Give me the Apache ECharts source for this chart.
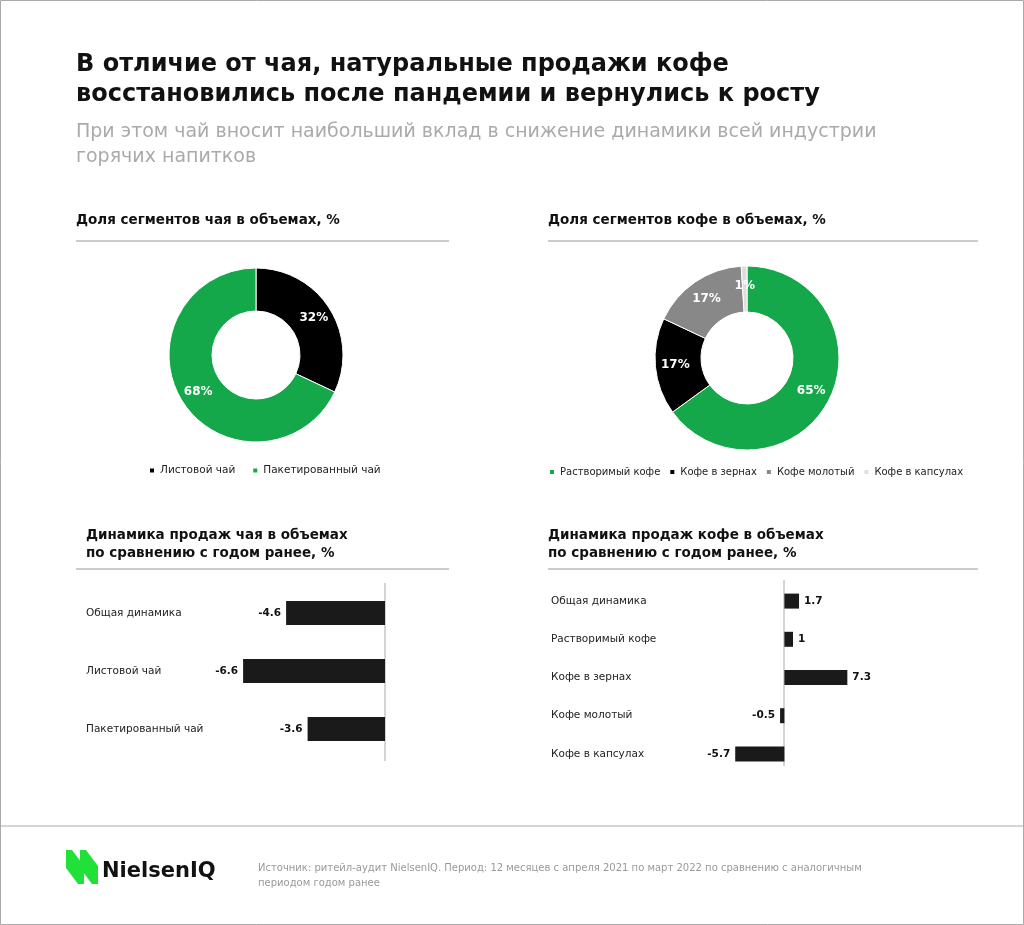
<!DOCTYPE html>
<html><head><meta charset="utf-8">
<script src="https://cdn.jsdelivr.net/npm/echarts@6/dist/echarts.min.js"></script>
<style>html,body{margin:0;background:#fff}#c{width:1024px;height:925px}</style>
</head><body><div id="c"></div>
<script>
const teaSegments=['Листовой чай','Пакетированный чай'];
const teaShares=[32,68];
const coffeeSegments=['Растворимый кофе','Кофе в зернах','Кофе молотый','Кофе в капсулах'];
const coffeeShares=[65,17,17,1];
const teaDynCats=['Общая динамика','Листовой чай','Пакетированный чай'];
const teaDynVals=[-4.6,-6.6,-3.6];
const coffeeDynCats=['Общая динамика','Растворимый кофе','Кофе в зернах','Кофе молотый','Кофе в капсулах'];
const coffeeDynVals=[1.7,1,7.3,-0.5,-5.7];

const F='"DejaVu Sans", sans-serif';
const G='#14a84a';
const chart=echarts.init(document.getElementById('c'));
const txt=(x,y,t,o)=>({type:'text',left:x,top:y,style:Object.assign({text:t,font:'13px '+F,fill:'#111'},o||{})});
const line=(x1,y1,x2,y2,c)=>({type:'line',shape:{x1,y1,x2,y2},style:{stroke:c||'#999',lineWidth:1}});
function barSeries(){return {type:'bar',itemStyle:{color:'#1a1a1a'},
  label:{show:true,formatter:p=>String(p.value),position:'right',fontFamily:F,fontWeight:'bold',fontSize:10.5,color:'#111'}};}
function mk(vals){return vals.map(v=>({value:v,label:{position:v<0?'left':'right'}}));}
chart.setOption({
  animation:false,
  graphic:[
    {type:'rect',shape:{x:0.5,y:0.5,width:1023,height:924},style:{fill:'none',stroke:'#aaa'}},
    txt(76,50,'В отличие от чая, натуральные продажи кофе\nвосстановились после пандемии и вернулись к росту',{font:'bold 24px '+F,lineHeight:30}),
    txt(76,120,'При этом чай вносит наибольший вклад в снижение динамики всей индустрии\nгорячих напитков',{font:'19px '+F,fill:'#aaa',lineHeight:25}),
    txt(76,213,'Доля сегментов чая в объемах, %',{font:'bold 13.5px '+F}),
    line(76,241,449,241),
    txt(548,213,'Доля сегментов кофе в объемах, %',{font:'bold 13.5px '+F}),
    line(548,241,978,241),
    txt(86,526,'Динамика продаж чая в объемах\nпо сравнению с годом ранее, %',{font:'bold 13.5px '+F,lineHeight:18}),
    line(76,569,449,569),
    txt(548,526,'Динамика продаж кофе в объемах\nпо сравнению с годом ранее, %',{font:'bold 13.5px '+F,lineHeight:18}),
    line(548,569,978,569),
    line(385,583,385,761,'#aaa'),
    line(784,580,784,766,'#aaa'),
    line(0,826,1024,826,'#aaa'),
    {type:'polygon',shape:{points:[[66,850],[72,850],[84,866],[84,884],[78,884],[66,868]]},style:{fill:'#22e03a'}},
    {type:'polygon',shape:{points:[[80,850],[86,850],[98,866],[98,884],[92,884],[80,868]]},style:{fill:'#22e03a'}},
    txt(102,861,'NielsenIQ',{font:'bold 21px '+F}),
    txt(258,861,'Источник: ритейл-аудит NielsenIQ. Период: 12 месяцев с апреля 2021 по март 2022 по сравнению с аналогичным\nпериодом годом ранее',{font:'10px '+F,fill:'#999',lineHeight:15})
  ],
  legend:[
    {data:teaSegments,left:143,top:460,itemWidth:6,itemHeight:6,icon:'rect',itemGap:16,
     textStyle:{fontFamily:F,fontSize:10.5,color:'#222'},selectedMode:false},
    {data:coffeeSegments,left:543,top:462,itemWidth:6,itemHeight:6,icon:'rect',itemGap:8,
     textStyle:{fontFamily:F,fontSize:10,color:'#222'},selectedMode:false}
  ],
  grid:[
    {left:213,width:172,top:584,height:174},
    {left:724,width:138,top:582,height:191}
  ],
  xAxis:[
    {gridIndex:0,type:'value',min:-8,max:0,show:false},
    {gridIndex:1,type:'value',min:-7,max:9,show:false}
  ],
  yAxis:[
    {gridIndex:0,type:'category',data:teaDynCats,inverse:true,axisLine:{show:false},axisTick:{show:false},
     axisLabel:{align:'left',margin:127,fontFamily:F,fontSize:10.5,color:'#222'}},
    {gridIndex:1,type:'category',data:coffeeDynCats,inverse:true,axisLine:{show:false},axisTick:{show:false},
     axisLabel:{align:'left',margin:173,fontFamily:F,fontSize:10.5,color:'#222'}}
  ],
  series:[
    {type:'pie',center:[256,355],radius:[44,87],startAngle:90,clockwise:true,
     data:teaSegments.map((n,i)=>({name:n,value:teaShares[i]})),
     color:['#000',G],itemStyle:{borderColor:'#fff',borderWidth:1},
     label:{position:'inside',formatter:'{c}%',fontFamily:F,fontWeight:'bold',fontSize:12,color:'#fff'},labelLine:{show:false}},
    {type:'pie',center:[747,358],radius:[46,92],startAngle:90,clockwise:true,
     data:coffeeSegments.map((n,i)=>({name:n,value:coffeeShares[i]})),
     color:[G,'#000','#888','#ddd'],itemStyle:{borderColor:'#fff',borderWidth:1},
     label:{position:'inside',formatter:'{c}%',fontFamily:F,fontWeight:'bold',fontSize:12,color:'#fff'},labelLine:{show:false}},
    Object.assign(barSeries(),{xAxisIndex:0,yAxisIndex:0,data:mk(teaDynVals),barWidth:24}),
    Object.assign(barSeries(),{xAxisIndex:1,yAxisIndex:1,data:mk(coffeeDynVals),barWidth:15})
  ]
});
</script></body></html>
